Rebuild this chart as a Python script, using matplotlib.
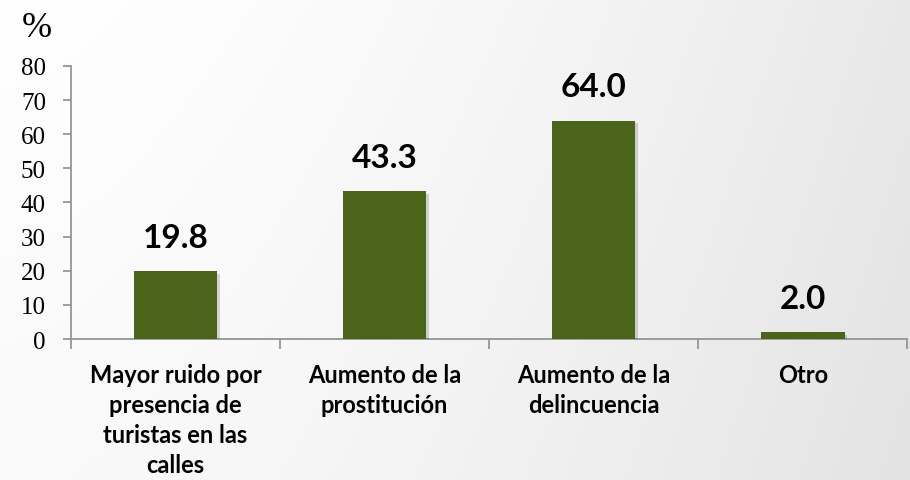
import numpy as np
import matplotlib.pyplot as plt
import matplotlib.patheffects as pe

categories = ['Mayor ruido por\npresencia de\nturistas en las\ncalles',
              'Aumento de la\nprostitución',
              'Aumento de la\ndelincuencia',
              'Otro']
values = [19.8, 43.3, 64.0, 2.0]
yticks = [0, 10, 20, 30, 40, 50, 60, 70, 80]

bar_color = '#4A6419'
axis_color = '#959595'

fig = plt.figure(figsize=(9.1, 4.81), dpi=100)

# background: white at top-left fading to light grey towards bottom-right
bg = fig.add_axes([0, 0, 1, 1], zorder=-1)
gx, gy = np.meshgrid(np.linspace(0, 1, 300), np.linspace(0, 1, 160))
shade = 1 - 0.11 * (0.8 * gx ** 1.6 + 0.2 * gy)
bg.imshow(np.dstack([shade, shade, shade]), aspect='auto', extent=[0, 1, 0, 1])
bg.axis('off')

ax = fig.add_axes([0.078, 0.293, 0.919, 0.568])
ax.patch.set_alpha(0)

x = np.arange(len(values))
bars = ax.bar(x, values, width=0.4, color=bar_color, zorder=3)
for b in bars:
    b.set_path_effects([pe.SimplePatchShadow(offset=(2, -2), shadow_rgbFace='#000000', alpha=0.15),
                        pe.Normal()])

for xi, v in zip(x, values):
    ax.annotate(f'{v:.1f}', (xi, v), xytext=(0, 14), textcoords='offset points',
                ha='center', va='bottom', fontsize=24, fontweight='bold',
                family='Lato', color='black')

ax.set_xlim(-0.5, len(values) - 0.5)
ax.set_ylim(0, 80)
ax.set_yticks(yticks)
ax.set_yticklabels([str(t) for t in yticks], family='Liberation Serif', fontsize=18)

# boundaries as major ticks, category names on minor ticks
ax.set_xticks(np.arange(-0.5, len(values), 1.0))
ax.set_xticklabels([])
ax.set_xticks(x, minor=True)
ax.set_xticklabels(categories, minor=True, fontsize=17, fontweight='bold',
                   family='Lato', linespacing=1.38, va='top')
ax.tick_params(axis='x', which='minor', length=0, pad=17)
ax.tick_params(axis='x', which='major', length=7, color=axis_color, width=1.3)
ax.tick_params(axis='y', length=6, color=axis_color, width=1.3, pad=12)

for s in ['top', 'right']:
    ax.spines[s].set_visible(False)
for s in ['left', 'bottom']:
    ax.spines[s].set_color(axis_color)
    ax.spines[s].set_linewidth(1.3)

fig.text(0.041, 0.94, '%', family='Liberation Serif', fontsize=26,
         ha='center', va='center')

fig.savefig('out.png', dpi=100)
